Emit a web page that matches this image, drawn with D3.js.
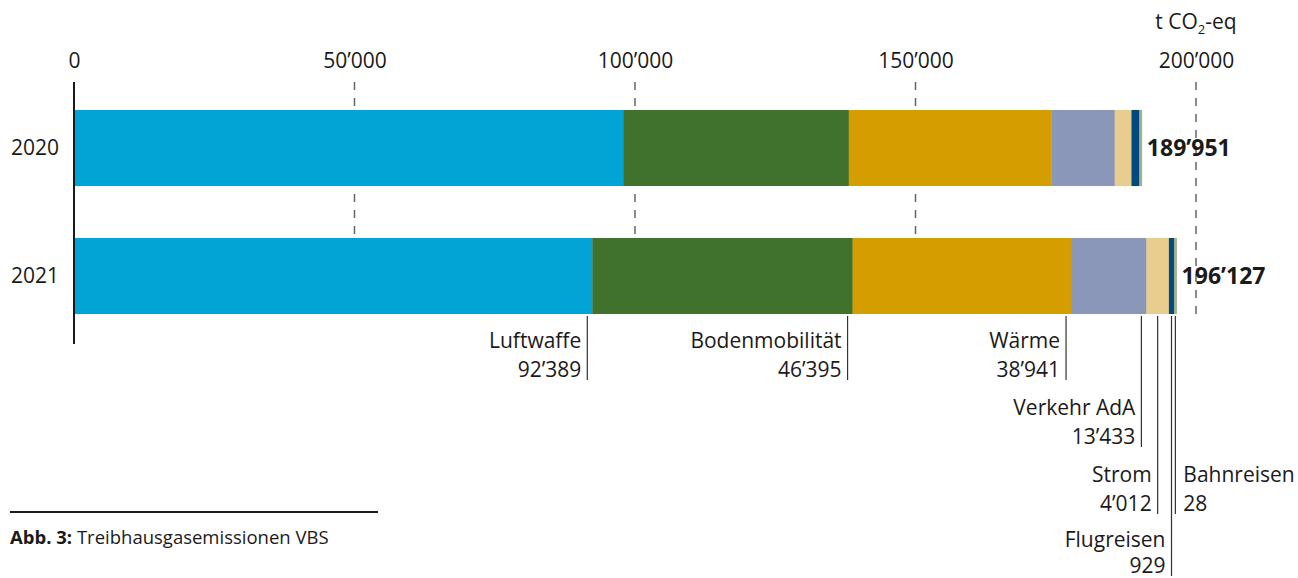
<!DOCTYPE html>
<html>
<head>
<meta charset="utf-8">
<script src="https://cdn.jsdelivr.net/npm/d3@7"></script>
<style>
  html, body { margin: 0; padding: 0; background: #fff; }
  svg { display: block; font-family: "Open Sans", "Noto Sans", sans-serif; }
</style>
</head>
<body>
<svg id="chart" width="1298" height="578"></svg>
<script>
// ---- data ----
const years = ["2020", "2021"];
const categories = ["Luftwaffe", "Bodenmobilität", "Wärme", "Verkehr AdA", "Strom", "Flugreisen", "Bahnreisen"];
const values2020 = [97900, 40200, 36100, 11300, 3000, 1400, 51];
const values2021 = [92389, 46395, 38941, 13433, 4012, 929, 28];
const totals = [189951, 196127];
const tickValues = [0, 50000, 100000, 150000, 200000];
const colors = ["#00a5d5", "#40722e", "#d49e00", "#8a97b8", "#e9cd8f", "#004a80", "#9db28e"];

// ---- setup ----
const svg = d3.select("#chart");
const loc = d3.formatLocale({ decimal: ".", thousands: "’", grouping: [3], currency: ["", ""] });
const fmt = loc.format(",d");
const ink = "#1a1a1a";

const x = d3.scaleLinear().domain([0, 200000]).range([74, 1196]);
const y = d3.scaleBand().domain(years).range([84, 340]).paddingInner(0.40625).paddingOuter(0.203);

// gridlines (dashed)
svg.append("g").selectAll("line")
  .data(tickValues.filter(d => d > 0))
  .join("line")
  .attr("x1", d => x(d)).attr("x2", d => x(d))
  .attr("y1", 82).attr("y2", 314)
  .attr("stroke", "#666").attr("stroke-width", 1.5)
  .attr("stroke-dasharray", "8,8");

// top axis labels
const axis = d3.axisTop(x).tickValues(tickValues).tickSize(0).tickPadding(0).tickFormat(d => fmt(d));
const gAxis = svg.append("g").attr("transform", "translate(0,68)").call(axis);
gAxis.select(".domain").remove();
gAxis.selectAll("text").attr("font-size", 21).attr("fill", ink)
  .attr("font-family", "'Open Sans', sans-serif").attr("dy", 0);

// unit label
const unit = svg.append("text").attr("x", x(200000)).attr("y", 29)
  .attr("text-anchor", "middle").attr("font-size", 21).attr("fill", ink);
unit.append("tspan").text("t CO");
unit.append("tspan").text("2").attr("font-size", 13).attr("dy", 5);
unit.append("tspan").text("-eq").attr("dy", -5);

// stacked bars
const series = [values2020, values2021];
const minW = 2.5;
const segs = [];
series.forEach((vals, i) => {
  let px = x(0);
  let cum = 0;
  vals.forEach((v, j) => {
    const w = Math.max(x(cum + v) - x(cum), minW);
    segs.push({ year: years[i], cat: j, x0: px, w: w, v: v });
    px += w;
    cum += v;
  });
});
svg.append("g").selectAll("rect")
  .data(segs)
  .join("rect")
  .attr("x", d => d.x0)
  .attr("y", d => y(d.year))
  .attr("width", d => d.w + 0.3)
  .attr("height", y.bandwidth())
  .attr("fill", d => colors[d.cat]);

// baseline axis line
svg.append("line").attr("x1", x(0)).attr("x2", x(0)).attr("y1", 82).attr("y2", 344)
  .attr("stroke", ink).attr("stroke-width", 2);

// year labels
svg.append("g").selectAll("text")
  .data(years)
  .join("text")
  .attr("x", 59)
  .attr("y", d => y(d) + y.bandwidth() / 2)
  .attr("dy", "0.35em")
  .attr("text-anchor", "end")
  .attr("font-size", 21)
  .attr("fill", ink)
  .text(d => d);

// totals
svg.append("g").selectAll("text")
  .data(years)
  .join("text")
  .attr("x", (d, i) => { const s = segs.filter(e => e.year === d); const last = s[s.length - 1]; return last.x0 + last.w + 5; })
  .attr("y", d => y(d) + y.bandwidth() / 2)
  .attr("dy", "0.35em")
  .attr("font-size", 23)
  .attr("font-weight", "bold")
  .attr("fill", ink)
  .text((d, i) => fmt(totals[i]));

// annotations for 2021
const rowOf = [0, 0, 0, 1, 2, 3, 2];
const barBottom = y("2021") + y.bandwidth();
const segs21 = segs.filter(e => e.year === "2021");
const gAnn = svg.append("g");
segs21.forEach((s, j) => {
  const off = s.w < 30 ? s.w / 2 : 5;
  const lx = s.x0 + s.w - off;
  const row = rowOf[j];
  const l1 = 341 + row * 67 - (row === 3 ? 2 : 0);
  const l2 = l1 + (row === 3 ? 26 : 29);
  const right = j === categories.length - 1;
  gAnn.append("line")
    .attr("x1", lx).attr("x2", lx)
    .attr("y1", barBottom + 2).attr("y2", Math.min(l2 + 10, 578))
    .attr("stroke", "#333").attr("stroke-width", 1.2);
  const tx = right ? lx + 8 : lx - 6;
  const anchor = right ? "start" : "end";
  [categories[j], fmt(values2021[j])].forEach((t, k) => {
    gAnn.append("text")
      .attr("x", tx).attr("y", k === 0 ? l1 : l2)
      .attr("dy", "0.35em")
      .attr("text-anchor", anchor)
      .attr("font-size", 21)
      .attr("fill", ink)
      .text(t);
  });
});

// caption
svg.append("line").attr("x1", 10).attr("x2", 378).attr("y1", 512).attr("y2", 512)
  .attr("stroke", ink).attr("stroke-width", 2);
const cap = svg.append("text").attr("x", 10).attr("y", 544).attr("font-size", 18.5).attr("fill", ink);
cap.append("tspan").text("Abb. 3:").attr("font-weight", "bold");
cap.append("tspan").text(" Treibhausgasemissionen VBS");
</script>
</body>
</html>
